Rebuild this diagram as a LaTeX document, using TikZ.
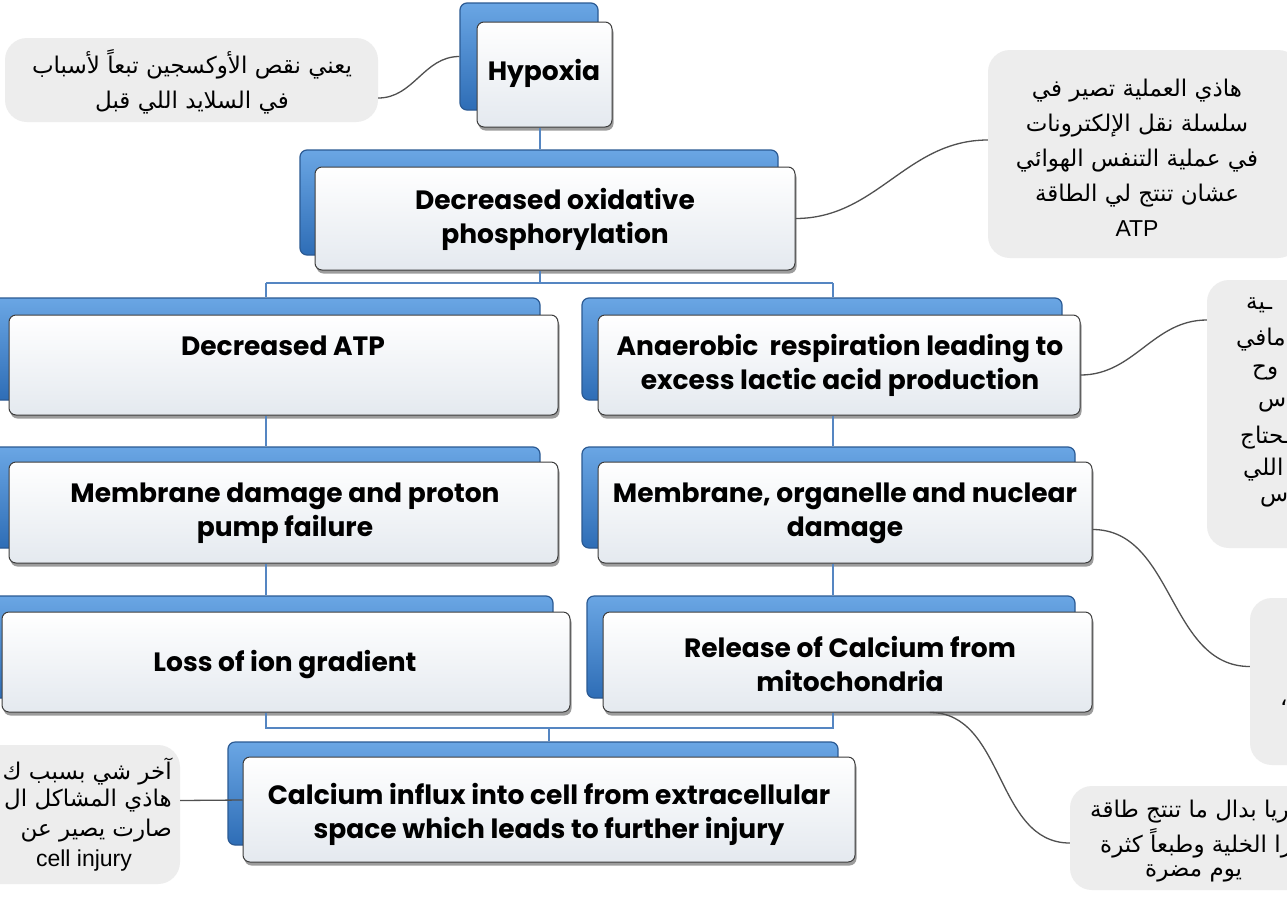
\documentclass[tikz,border=0pt]{standalone}
\usepackage{fontspec}
\usetikzlibrary{shadows,fit}
\TeXXeTstate=1
\newfontfamily\arabicfont[Script=Arabic]{DejaVu Sans}
\newfontfamily\engfont{Poppins}
\newfontfamily\latfont{Liberation Sans}
\definecolor{bluetop}{HTML}{6AA6E4}
\definecolor{bluebot}{HTML}{2E6DB6}
\definecolor{blueborder}{HTML}{2B5A93}
\definecolor{frontbot}{HTML}{E4E9EF}
\definecolor{frontborder}{HTML}{3C3C3C}
\definecolor{notegray}{HTML}{EDEDED}
\definecolor{curvegray}{HTML}{505050}
\definecolor{lineblue}{HTML}{5586C2}
\tikzset{
  backbox/.style={draw=blueborder, line width=1.2pt, rounded corners=7pt, top color=bluetop, bottom color=bluebot, inner sep=0pt},
  frontbox/.style={draw=frontborder, line width=1pt, rounded corners=7pt, top color=white, bottom color=frontbot, inner sep=0pt,
    drop shadow={shadow xshift=1.5pt, shadow yshift=-3.5pt, opacity=0.55, fill=black!70}},
  notebox/.style={fill=notegray, rounded corners=22pt, inner sep=0pt},
  curve/.style={draw=curvegray, line width=1.3pt},
  bline/.style={draw=lineblue, line width=2.2pt},
  lbl/.style={font=\engfont\bfseries\fontsize{26.5}{34}\selectfont, align=center, text=black, inner sep=0pt},
  artext/.style={font=\arabicfont\fontsize{23}{35}\selectfont, align=center, text=black, inner sep=0pt},
}
\begin{document}
\begin{tikzpicture}[x=1pt,y=-1pt]
\useasboundingbox (0,0) rectangle (1287,897);
\fill[white] (0,0) rectangle (1287,897);

% ---------- notes ----------
\node[notebox, fit={(5,38) (378,122)}] (n1) {};
\node[artext] (n1t) at (192,82) {\beginR يعني نقص الأوكسجين تبعاً لأسباب\endR\\\beginR في السلايد اللي قبل\endR};

\node[notebox, fit={(988,50) (1300,258)}] (r1) {};
\node[artext] (r1t) at (1137,158) {\beginR هاذي العملية تصير في\endR\\\beginR سلسلة نقل الإلكترونات\endR\\\beginR في عملية التنفس الهوائي\endR\\\beginR عشان تنتج لي الطاقة\endR\\{\latfont ATP}};

\node[notebox, fit={(1207,280) (1320,548)}] (r2) {};
\node[artext, anchor=west] (r2a) at (1246,305) {\beginR ـية\endR};
\node[artext, anchor=west] (r2b) at (1236,340) {\beginR مافي\endR};
\node[artext, anchor=west] (r2c) at (1252,372) {\beginR وح\endR};
\node[artext, anchor=west] (r2d) at (1258,405) {\beginR س\endR};
\node[artext, anchor=west] (r2e) at (1240,438) {\beginR ـحتاج\endR};
\node[artext, anchor=west] (r2f) at (1243,470) {\beginR اللي\endR};
\node[artext, anchor=west] (r2g) at (1260,500) {\beginR س\endR};

\node[notebox, fit={(1250,598) (1320,765)}] (r3) {};
\node[artext, anchor=west] (r3a) at (1280,703) {\beginR ،\endR};

\node[notebox, fit={(1070,786) (1330,890)}] (r4) {};
\node[artext, anchor=west] (r4a) at (1090,812) {\beginR ريا بدال ما تنتج طاقة\endR};
\node[artext, anchor=west] (r4b) at (1100,843) {\beginR را الخلية وطبعاً كثرة\endR};
\node[artext, anchor=west] (r4c) at (1145,873) {\beginR يوم مضرة\endR};

\node[notebox, fit={(-40,745) (180,884)}] (l2) {};
\node[artext, anchor=east] (l2a) at (172,771) {\beginR آخر شي بسبب ك\endR};
\node[artext, anchor=east] (l2b) at (172,801) {\beginR هاذي المشاكل ال\endR};
\node[artext, anchor=east] (l2c) at (172,831) {\beginR صارت يصير عن\endR};
\node[artext] (l2d) at (84,861) {\latfont cell injury};

% ---------- boxes ----------
\node[backbox, fit={(460,3) (598,110)}] (hypb) {};
\node[frontbox, fit={(477,22) (612,127)}] (hyp) {};
\node[lbl] (hypt) at (544,73) {Hypoxia};

\node[backbox, fit={(300,150) (778,255)}] (dopb) {};
\node[frontbox, fit={(315,167) (795,270)}] (dop) {};
\node[lbl] (dopt) at (555,219) {Decreased oxidative\\phosphorylation};

\node[backbox, fit={(-8,298) (540,400)}] (atpb) {};
\node[frontbox, fit={(9,315) (558,415)}] (atp) {};
\node[lbl] (atpt) at (283,346) {Decreased ATP};

\node[backbox, fit={(582,298) (1062,400)}] (anab) {};
\node[frontbox, fit={(598,315) (1080,415)}] (ana) {};
\node[lbl] (anat) at (840,365) {Anaerobic\ \ respiration leading to\\excess lactic acid production};

\node[backbox, fit={(-8,447) (540,548)}] (mdb) {};
\node[frontbox, fit={(9,462) (558,563)}] (md) {};
\node[lbl] (mdt) at (285,513) {Membrane damage and proton\\pump failure};

\node[backbox, fit={(582,447) (1075,548)}] (mob) {};
\node[frontbox, fit={(598,462) (1092,563)}] (mo) {};
\node[lbl] (mot) at (845,513) {Membrane, organelle and nuclear\\damage};

\node[backbox, fit={(-15,596) (553,698)}] (lossb) {};
\node[frontbox, fit={(2,612) (570,712)}] (loss) {};
\node[lbl] (losst) at (285,665) {Loss of ion gradient};

\node[backbox, fit={(587,596) (1075,698)}] (relb) {};
\node[frontbox, fit={(603,612) (1092,712)}] (rel) {};
\node[lbl] (relt) at (850,664) {Release of Calcium from\\mitochondria};

\node[backbox, fit={(228,742) (838,845)}] (calb) {};
\node[frontbox, fit={(243,757) (855,862)}] (cal) {};
\node[lbl] (calt) at (549,814) {Calcium influx into cell from extracellular\\space which leads to further injury};

% ---------- blue tree lines ----------
\coordinate (j1) at (540,283);
\coordinate (jl) at (266,283);
\coordinate (jr) at (833,283);
\coordinate (k1) at (266,728);
\coordinate (k2) at (833,728);
\coordinate (kc) at (549,728);
\draw[bline] (hyp.south -| j1) -- (dopb.north -| j1);
\draw[bline] (dop.south -| j1) -- (j1);
\draw[bline] (jl) -- (jr);
\draw[bline] (jl) -- (atpb.north -| jl);
\draw[bline] (jr) -- (anab.north -| jr);
\draw[bline] (atp.south -| jl) -- (mdb.north -| jl);
\draw[bline] (ana.south -| jr) -- (mob.north -| jr);
\draw[bline] (md.south -| jl) -- (lossb.north -| jl);
\draw[bline] (mo.south -| jr) -- (relb.north -| jr);
\draw[bline] (loss.south -| k1) -- (k1) -- (k2) -- (rel.south -| k2);
\draw[bline] (kc) -- (calb.north -| kc);

% ---------- note connectors ----------
\draw[curve] ([yshift=-18pt]n1.east) to[out=0,in=180] (hypb.west);
\draw[curve] (dop.east) to[out=0,in=180] ([yshift=14pt]r1.west);
\draw[curve] ([yshift=-10pt]ana.east) to[out=0,in=180] ([yshift=94pt]r2.west);
\draw[curve] ([yshift=-17pt]mo.east) to[out=0,in=180] ([yshift=15pt]r3.west);
\draw[curve] ([xshift=82.5pt]rel.south) to[out=0,in=180] ([yshift=-5pt]r4.west);
\draw[curve] ([yshift=9.5pt]cal.west) -- ([yshift=14pt]l2.east);
\end{tikzpicture}
\end{document}
